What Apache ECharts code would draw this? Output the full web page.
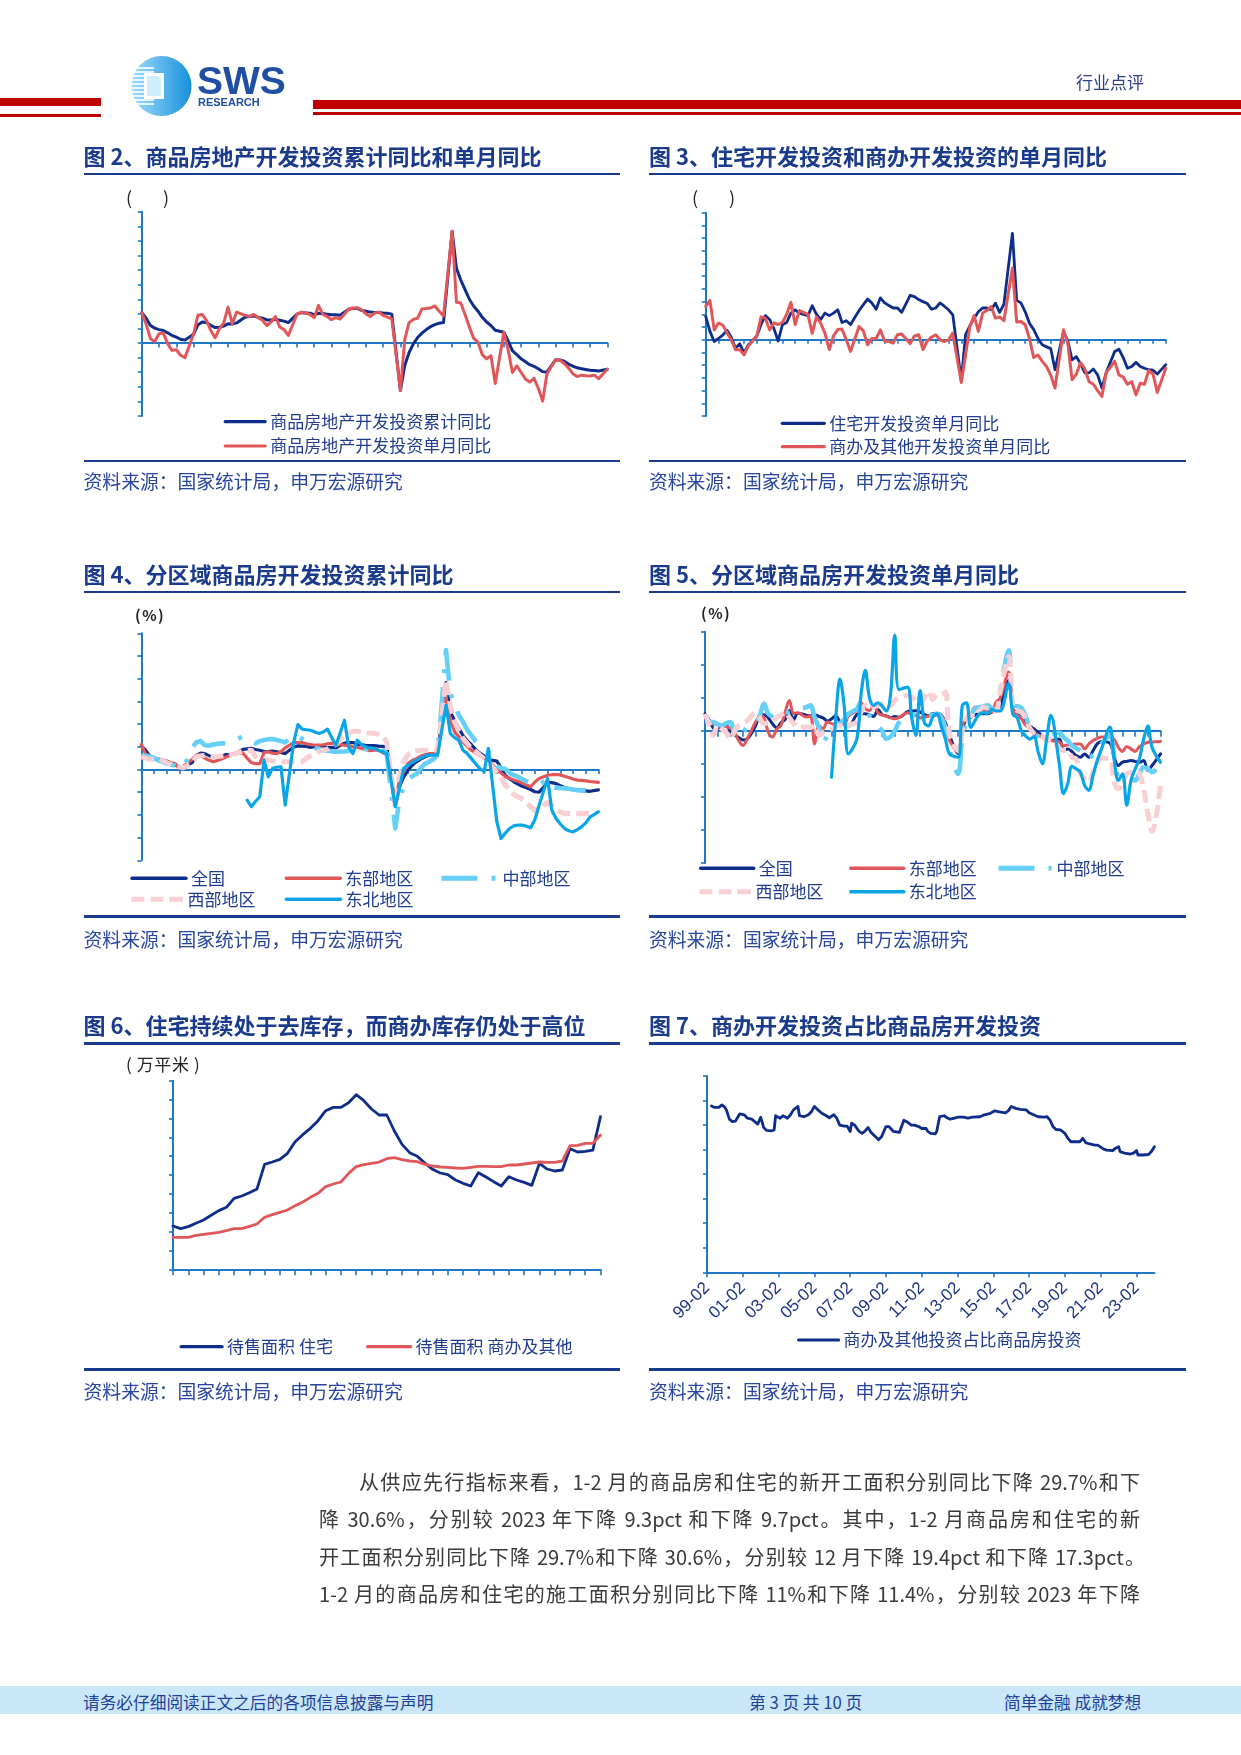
<!DOCTYPE html>
<html><head><meta charset="utf-8">
<script src="https://cdn.jsdelivr.net/npm/echarts@6/dist/echarts.min.js"></script>
<style>
body{margin:0;background:#fff;}
#page{position:relative;width:1241px;height:1755px;overflow:hidden;font-family:"Noto Sans CJK SC","Noto Sans",sans-serif;background:#fff;}
#chart{position:absolute;left:0;top:0;width:1241px;height:1755px;z-index:1;}
.t{position:absolute;white-space:nowrap;z-index:2;}
.ttl{font-size:22px;line-height:22px;font-weight:bold;color:#1a3a8c;}
.src{font-size:18.8px;line-height:19px;color:#2846a0;}
.rule{position:absolute;background:#1a3a8c;z-index:2;}
.para{position:absolute;z-index:2;font-size:20px;line-height:20px;color:#3a3a3a;text-align:justify;text-align-last:justify;white-space:nowrap;}
.unit{font-size:18px;line-height:18px;color:#222;}
</style></head>
<body><div id="page">
<div id="chart"></div>

<!-- header -->
<div style="position:absolute;left:0;top:98px;width:101px;height:8px;background:#c00000"></div>
<div style="position:absolute;left:0;top:114px;width:101px;height:3px;background:#c00000"></div>
<div style="position:absolute;left:313px;top:100px;width:928px;height:9px;background:#c00000"></div>
<div style="position:absolute;left:313px;top:112px;width:928px;height:3px;background:#c00000"></div>
<svg style="position:absolute;left:128px;top:54px;z-index:2" width="165" height="66">
 <defs><linearGradient id="lg1" x1="0" y1="0" x2="1" y2="0"><stop offset="0" stop-color="#9fdcf9"/><stop offset="1" stop-color="#1890dc"/></linearGradient></defs>
 <circle cx="33.5" cy="32" r="30" fill="url(#lg1)"/>
 <g stroke="#ffffff" stroke-width="1.6">
  <line x1="2" y1="14" x2="26" y2="14"/><line x1="2" y1="18" x2="26" y2="18"/><line x1="2" y1="22" x2="26" y2="22"/>
  <line x1="2" y1="26" x2="26" y2="26"/><line x1="2" y1="30" x2="26" y2="30"/><line x1="2" y1="34" x2="26" y2="34"/>
  <line x1="2" y1="38" x2="26" y2="38"/><line x1="2" y1="42" x2="26" y2="42"/><line x1="2" y1="46" x2="26" y2="46"/>
  <line x1="2" y1="50" x2="26" y2="50"/>
 </g>
 <rect x="16" y="19" width="20" height="26" fill="#ffffff"/>
 <rect x="19" y="22" width="14" height="20" fill="#cfeefd"/>
 <text x="69" y="40" font-family="Liberation Sans" font-weight="bold" font-size="39" fill="#1f4fa3">SWS</text>
 <text x="70" y="52" font-family="Liberation Sans" font-weight="bold" font-size="11" fill="#1f4fa3">RESEARCH</text>
</svg>
<div class="t" style="left:1076px;top:73px;font-size:17px;line-height:17px;color:#2a3f8c;">行业点评</div>

<!-- titles -->
<div class="t ttl" style="left:83.6px;top:144px;">图 2、商品房地产开发投资累计同比和单月同比</div>
<div class="t ttl" style="left:649px;top:144px;">图 3、住宅开发投资和商办开发投资的单月同比</div>
<div class="rule" style="left:83.6px;top:173.3px;width:536.4px;height:2px"></div>
<div class="rule" style="left:649px;top:173.3px;width:536.6px;height:2px"></div>
<div class="t unit" style="left:126px;top:188px;">(</div>
<div class="t unit" style="left:163px;top:188px;">)</div>
<div class="t unit" style="left:692px;top:188px;">(</div>
<div class="t unit" style="left:729px;top:188px;">)</div>
<div class="rule" style="left:83.6px;top:459.7px;width:536.4px;height:2px"></div>
<div class="rule" style="left:649px;top:459.7px;width:536.6px;height:2px"></div>
<div class="t src" style="left:83.6px;top:470.5px;">资料来源：国家统计局，申万宏源研究</div>
<div class="t src" style="left:649px;top:470.5px;">资料来源：国家统计局，申万宏源研究</div>

<div class="t ttl" style="left:83.6px;top:562px;">图 4、分区域商品房开发投资累计同比</div>
<div class="t ttl" style="left:649px;top:562px;">图 5、分区域商品房开发投资单月同比</div>
<div class="rule" style="left:83.6px;top:590.7px;width:536.4px;height:2px"></div>
<div class="rule" style="left:649px;top:590.7px;width:536.6px;height:2px"></div>
<div class="t" style="left:135px;top:607px;font-size:15px;line-height:16px;font-weight:bold;color:#222;letter-spacing:1.5px;">(%)</div>
<div class="t" style="left:701px;top:605px;font-size:15px;line-height:16px;font-weight:bold;color:#222;letter-spacing:1.5px;">(%)</div>
<div class="rule" style="left:83.6px;top:915.2px;width:536.4px;height:3px"></div>
<div class="rule" style="left:649px;top:915.2px;width:536.6px;height:3px"></div>
<div class="t src" style="left:83.6px;top:929px;">资料来源：国家统计局，申万宏源研究</div>
<div class="t src" style="left:649px;top:929px;">资料来源：国家统计局，申万宏源研究</div>

<div class="t ttl" style="left:83.6px;top:1013px;">图 6、住宅持续处于去库存，而商办库存仍处于高位</div>
<div class="t ttl" style="left:649px;top:1013px;">图 7、商办开发投资占比商品房开发投资</div>
<div class="rule" style="left:83.6px;top:1042px;width:536.4px;height:2.5px"></div>
<div class="rule" style="left:649px;top:1042px;width:536.6px;height:2.5px"></div>
<div class="t" style="left:126px;top:1054.5px;font-size:17px;line-height:17px;color:#222;letter-spacing:0.6px;">( 万平米 )</div>
<div class="rule" style="left:83.6px;top:1367.5px;width:536.4px;height:3px"></div>
<div class="rule" style="left:649px;top:1367.5px;width:536.6px;height:3px"></div>
<div class="t src" style="left:83.6px;top:1380.5px;">资料来源：国家统计局，申万宏源研究</div>
<div class="t src" style="left:649px;top:1380.5px;">资料来源：国家统计局，申万宏源研究</div>

<!-- paragraph -->
<div class="para" style="left:359px;top:1471.7px;width:781px;">从供应先行指标来看，1-2 月的商品房和住宅的新开工面积分别同比下降 29.7%和下</div>
<div class="para" style="left:319px;top:1509.3px;width:821px;">降 30.6%，分别较 2023 年下降 9.3pct 和下降 9.7pct。其中，1-2 月商品房和住宅的新</div>
<div class="para" style="left:319px;top:1546.7px;width:826px;">开工面积分别同比下降 29.7%和下降 30.6%，分别较 12 月下降 19.4pct 和下降 17.3pct。</div>
<div class="para" style="left:319px;top:1584px;width:821px;">1-2 月的商品房和住宅的施工面积分别同比下降 11%和下降 11.4%，分别较 2023 年下降</div>

<!-- footer -->
<div style="position:absolute;left:0;top:1686px;width:1241px;height:28px;background:#c9e7f9;z-index:1"></div>
<div class="t" style="left:83px;top:1693.5px;font-size:16.7px;line-height:17px;color:#1f3f9a;">请务必仔细阅读正文之后的各项信息披露与声明</div>
<div class="t" style="left:749px;top:1693.5px;font-size:16.7px;line-height:17px;color:#1f3f9a;">第 3 页 共 10 页</div>
<div class="t" style="left:1004px;top:1693.5px;font-size:16.7px;line-height:17px;color:#1f3f9a;">简单金融 成就梦想</div>
</div>

<script>
// ---------- categories ----------
function monthRange(y0, m0, y1, m1) {
  const out = []; let y = y0, m = m0;
  while (y < y1 || (y === y1 && m <= m1)) { out.push(y + '-' + String(m).padStart(2, '0')); m++; if (m > 12) { m = 1; y++; } }
  return out;
}
const months1524 = monthRange(2015, 2, 2024, 2);           // axis categories, charts 2-5
const dataMonths1524 = months1524.filter(s => !s.endsWith('-01')); // Jan-Feb reported together
const months1024 = monthRange(2010, 2, 2024, 2);           // chart 6
const months9924 = monthRange(1999, 2, 2024, 2);           // chart 7

// ---------- chart 2 ----------
const nationalCum = [
10.4, 8.5, 6.0, 5.1, 4.6, 4.3, 3.5, 2.6, 2.0, 1.3, 1.0,
3.0, 6.2, 7.2, 7.0, 6.1, 5.3, 5.4, 5.8, 6.6, 6.5, 6.9,
8.9, 9.1, 9.3, 8.8, 8.5, 7.9, 7.9, 8.1, 7.8, 7.5, 7.0,
9.9, 10.4, 10.3, 10.2, 9.7, 10.2, 10.1, 9.9, 9.7, 9.7, 9.5,
11.6, 11.8, 11.9, 11.2, 10.9, 10.6, 10.5, 10.5, 10.3, 10.2, 9.9,
-16.3, -7.7, -3.3, -0.3, 1.9, 3.4, 4.6, 5.6, 6.3, 6.8, 7.0,
38.3, 25.6, 21.6, 18.3, 15.0, 12.7, 10.9, 8.8, 7.2, 6.0, 4.4,
3.7, 0.7, -2.7, -4.0, -5.4, -6.4, -7.4, -8.0, -8.8, -9.8, -10.0,
-5.7, -5.8, -6.2, -7.2, -7.9, -8.5, -8.8, -9.1, -9.3, -9.4, -9.6,
-9.0];
const nationalMonthly = [
10.4, 6.5, 1.5, 0.5, 3.2, 3.4, -0.2, -2.5, -2.3, -4.2, -5.0,
3.0, 9.5, 9.8, 7.8, 4.3, 1.8, 4.9, 6.8, 12.3, 6.6, 10.6,
9.5, 9.1, 9.8, 8.7, 7.8, 6.0, 7.2, 9.1, 5.5, 4.6, 2.6,
9.9, 10.6, 10.3, 9.8, 8.7, 12.9, 9.8, 9.1, 8.0, 8.7, 8.2,
11.6, 12.0, 12.1, 11.4, 10.0, 9.1, 10.3, 10.6, 9.5, 8.9, 8.3,
-16.3, 1.2, 7.0, 8.1, 8.5, 11.7, 11.8, 12.0, 12.7, 10.9, 9.3,
38.3, 14.0, 13.7, 9.8, 5.5, 1.6, 0.3, -4.0, -5.4, -4.3, -13.9,
3.7, -2.4, -10.1, -7.8, -10.0, -12.3, -13.4, -12.1, -15.5, -19.9, -10.5,
-5.7, -5.9, -7.0, -8.5, -10.5, -11.5, -11.0, -11.2, -11.3, -11.0, -12.2,
-9.0];

// ---------- chart 3 ----------
const residentialMonthly = [
9.2, 3.3, -0.7, 0.5, 1.8, 3.7, 1.0, -3.3, -1.6, -5.2, -2.0,
1.5, 6.0, 9.5, 8.0, 4.5, -0.5, 5.9, 6.8, 10.5, 11.8, 10.5,
9.5, 13.4, 10.0, 8.0, 10.5, 9.5, 10.5, 11.8, 6.8, 7.5, 6.0,
11.5, 13.8, 16.0, 14.5, 12.0, 16.5, 14.5, 13.5, 12.5, 12.5, 10.8,
17.5, 17.0, 15.8, 15.0, 14.3, 12.0, 12.5, 14.5, 13.2, 11.8, 9.8,
-16.0, 2.0, 5.5, 8.5, 11.0, 12.5, 12.5, 11.8, 14.4, 10.8, 14.0,
41.9, 15.5, 14.5, 11.0, 6.5, 4.0, 0.5, -2.0, -2.8, -3.5, -11.8,
3.3, -0.5, -7.9, -6.6, -9.5, -13.0, -13.0, -11.5, -13.8, -19.0, -13.0,
-4.6, -3.7, -7.0, -11.2, -10.5, -8.9, -10.5, -11.2, -11.8, -12.0, -13.5,
-9.8];
const commercialMonthly = [
13.1, 15.5, 3.9, 6.6, 5.8, 2.8, 0.0, -3.9, -3.9, -5.9, -2.5,
1.5, 9.0, 8.5, 3.9, 6.6, 6.0, 6.8, 10.0, 14.7, 6.0, 11.5,
10.0, 2.5, 9.0, 6.5, 2.5, -3.9, 1.5, 4.0, 4.2, 0.0, -4.6,
5.2, 3.5, -2.0, 0.5, 0.5, 3.9, -0.5, -0.7, -1.3, 2.0, 2.3,
-1.5, 1.5, 2.0, -3.9, -0.5, 1.0, 2.0, 0.0, -0.7, 0.0, 2.6,
-16.8, -6.0, 5.0, 9.5, 3.3, 10.5, 11.5, 13.1, 8.5, 9.0, 7.5,
28.2, 7.0, 7.2, 5.9, 0.5, -7.0, -6.0, -8.5, -10.5, -14.0, -19.0,
3.9, -1.5, -15.7, -13.5, -9.0, -11.5, -16.5, -17.5, -20.0, -22.3, -13.0,
-8.5, -13.8, -14.7, -17.5, -16.5, -21.7, -17.1, -17.5, -12.0, -13.5, -20.7,
-11.2];

// ---------- chart 4 (cumulative, by region) ----------
const eastCum = [
11.0, 7.0, 5.5, 4.8, 4.5, 4.1, 3.8, 3.0, 2.6, 0.5, 1.5,
4.4, 6.3, 6.3, 5.0, 4.1, 3.4, 4.0, 4.6, 5.5, 6.3, 7.0,
7.3, 5.0, 3.0, 2.6, 2.6, 7.5, 7.8, 7.2, 7.0, 7.8, 9.5,
11.9, 11.9, 11.9, 11.3, 11.0, 10.7, 10.7, 10.9, 11.3, 11.5, 11.0,
10.7, 10.5, 10.0, 9.8, 9.3, 8.8, 8.3, 8.5, 8.5, 7.5, 6.5,
-14.5, -4.5, -1.0, 2.6, 4.0, 4.8, 5.8, 6.5, 7.0, 7.0, 7.5,
32.0, 22.0, 16.6, 14.5, 12.2, 10.2, 8.5, 7.3, 6.0, 5.0, 4.1,
0.0, -1.5, -3.2, -3.8, -4.6, -5.2, -6.0, -6.8, -7.6, -5.5, -4.0,
-2.5, -2.3, -2.2, -2.4, -3.0, -3.5, -4.2, -4.7, -4.8, -5.0, -5.3,
-5.7];
const centralCum = [
6.3, 6.0, 5.8, 5.0, 4.1, 3.5, 2.6, 2.2, 1.8, 1.2, 0.8,
9.5, 12.0, 12.5, 10.7, 10.5, 11.0, 11.3, 11.5, 11.5, 12.0, 12.9,
14.5, 14.0, 12.5, 11.5, 12.5, 13.0, 13.3, 13.4, 13.0, 12.5, 12.0,
15.0, 14.5, 13.5, 12.0, 10.5, 9.5, 9.0, 8.5, 8.3, 8.0, 7.8,
7.9, 8.2, 8.6, 9.0, 9.0, 9.0, 9.5, 9.5, 9.4, 8.5, 7.0,
-26.0, -13.0, -7.5, -4.5, -3.0, -2.0, 0.5, 2.5, 3.4, 4.5, 6.5,
52.6, 33.5, 29.0, 24.0, 21.0, 17.5, 15.0, 12.5, 11.0, 9.5, 8.0,
1.5, 0.5, 0.3, -1.5, -2.5, -3.2, -4.2, -5.2, -6.0, -6.8, -6.5,
-4.5, -7.5, -8.0, -8.2, -8.3, -8.5, -8.8, -9.1, -9.2, -9.2, null,
null];
const westCum = [
5.6, 5.0, 4.5, 4.6, 4.8, 4.0, 3.0, 2.2, 1.6, 1.2, 0.8,
3.0, 5.6, 6.0, 6.3, 6.0, 5.6, 5.7, 5.9, 6.2, 6.5, 7.0,
8.1, 8.4, 8.5, 5.6, 5.2, 4.8, 4.1, 3.8, 3.5, 3.4, 3.4,
3.4, 3.4, 3.4, 5.0, 6.0, 6.5, 8.0, 8.5, 9.0, 10.0, 11.0,
15.1, 16.0, 16.9, 16.9, 16.6, 16.3, 16.0, 16.0, 15.6, 15.0, 12.0,
-16.4, -3.0, 3.5, 6.5, 8.1, 8.3, 8.5, 8.5, 8.5, 8.5, 8.6,
39.4, 28.0, 21.0, 17.5, 13.7, 11.5, 9.3, 8.0, 6.3, 4.8, 3.4,
-1.5, -3.5, -6.9, -8.8, -11.0, -12.0, -13.0, -14.5, -16.5, -17.9, -17.0,
-14.5, -16.0, -17.9, -18.7, -19.4, -19.4, -19.4, -19.4, -19.4, -19.4, -19.4,
-19.2];
const northeastCum = [
null, null, null, null, null, null, null, null, null, null, null,
null, null, null, null, null, null, null, null, null, null, null,
null, -13.5, -16.4, -14.0, -12.0, 4.1, -3.2, 0.5, 1.0, 1.2, -15.7,
12.0, 19.8, 17.8, 17.5, 17.3, 16.5, 15.9, 16.5, 17.8, 14.0, 10.7,
21.7, 10.0, 7.0, 12.9, 11.0, 10.0, 9.5, 9.3, 8.5, 7.8, 7.0,
-16.4, -8.0, 0.5, 1.9, 3.0, 4.1, 5.0, 6.0, 6.3, 6.3, 6.3,
28.3, 15.9, 14.0, 12.9, 8.5, 7.0, 4.8, 2.5, 0.4, -1.0, 9.3,
-23.0, -30.4, -28.0, -26.0, -24.8, -24.5, -24.5, -25.0, -25.7, -22.0, -15.7,
-4.0, -18.0, -21.6, -24.0, -26.0, -27.0, -27.5, -26.5, -25.3, -23.5, -21.0,
-18.6];

// ---------- chart 5 (single month, by region) ----------
const nationalMonthlyR = [
10.4, 6.5, 1.5, 0.5, 3.2, 3.4, -0.2, -2.5, -4.0, -5.5, -5.0,
3.0, 9.5, 9.8, 7.8, 4.3, 1.8, 4.9, 6.8, 12.3, 6.6, 10.6,
9.5, 9.1, 9.8, 8.7, 7.8, 6.0, 7.2, 9.1, 5.5, 4.6, 2.6,
9.9, 10.6, 10.3, 9.8, 8.7, 12.9, 9.8, 9.1, 8.0, 8.7, 8.2,
11.6, 12.0, 12.1, 11.4, 10.0, 9.1, 10.3, 10.6, 9.5, 5.0, -2.8,
-13.9, 0.0, 7.5, 8.3, 9.5, 10.5, 10.3, 10.3, 11.3, 12.3, 15.0,
30.5, 13.0, 11.3, 9.5, 5.3, 3.0, 1.2, -1.0, -3.0, -5.9, -5.9,
-5.0, -11.9, -11.0, -12.5, -15.0, -16.0, -14.0, -16.0, -12.0, -7.9, -6.5,
-7.5, -16.0, -21.0, -19.0, -18.5, -18.0, -18.5, -19.0, -18.0, -24.0, -21.0,
-13.9];
const eastMonthly = [
9.3, 5.3, 4.3, 3.5, 3.2, 2.5, 1.5, -1.0, -6.0, -8.9, -4.8,
5.3, 9.3, 8.0, -0.8, -3.8, 1.0, 3.2, 11.3, 18.4, 10.5, 11.0,
8.3, 9.0, -7.9, 3.2, 1.2, 5.3, 4.5, 3.2, 5.0, 3.5, 9.0,
12.3, 17.0, 13.5, 12.3, 15.4, 11.0, 9.5, 8.9, 7.8, 7.3, 8.0,
10.9, 10.0, 9.3, 7.8, 8.3, 8.9, 9.5, 9.5, 9.3, 3.2, -5.9,
-13.0, 3.2, 7.5, 9.3, 14.3, 14.3, 12.8, 11.8, 11.3, 17.4, 20.0,
35.6, 13.3, 9.0, 7.3, 3.5, 1.5, -1.8, -2.5, -4.0, -4.8, -5.9,
-6.9, -8.9, -8.5, -8.3, -7.9, -7.9, -10.9, -8.0, -5.9, -4.5, -3.8,
-3.8, -5.0, -10.0, -12.5, -9.5, -10.9, -12.5, -9.5, -8.0, -6.9, -6.7,
-6.5];
const centralMonthly = [
5.3, 5.3, 5.3, 4.0, 3.2, 4.5, 5.3, -0.8, -2.8, -1.0, 2.2,
4.0, 9.3, 16.4, 10.3, 9.0, 10.3, 12.3, 11.5, 11.0, 12.5, 13.3,
14.3, 15.4, 8.0, 2.0, -6.9, -3.0, 1.2, 3.2, 4.5, 7.0, 10.3,
13.3, 17.4, 13.0, 9.3, 6.0, 3.2, 0.0, -4.8, -3.5, 0.0, 5.0,
9.5, 9.5, 9.5, 9.3, 10.0, 10.3, 9.5, 10.3, 8.0, 2.0, -12.0,
-26.0, -5.0, 5.0, 8.3, 13.3, 14.3, 14.8, 15.4, 13.5, 12.3, 25.0,
48.7, 15.4, 14.9, 14.0, 9.0, 2.0, -1.5, -3.5, -4.8, -4.0, -2.8,
-1.0, -3.8, -6.0, -8.9, -10.5, -11.9, -14.5, -17.0, -14.5, -12.9, -8.0,
-2.8, -15.0, -28.0, -28.5, -28.0, -29.0, -30.0, -26.0, -22.0, -23.0, -25.0,
-20.0];
const westMonthly = [
10.3, 4.0, -2.8, 3.2, 1.0, -1.0, -4.8, 0.0, 3.2, 4.5, 6.0,
10.9, 7.5, 4.3, 5.0, 6.0, 8.3, 9.5, 11.3, 8.0, 4.5, 2.2,
2.2, 2.2, 3.2, -2.8, -1.0, 0.2, 1.2, 2.5, 3.2, 1.2, 3.2,
5.3, 11.3, 15.4, 13.5, 14.5, 15.4, 16.5, 17.4, 15.4, 18.4, 20.0,
21.4, 20.5, 18.0, 16.0, 20.0, 24.0, 19.0, 22.0, 22.0, 23.4, -2.0,
-11.9, 0.0, 8.0, 9.5, 8.3, 12.0, 14.3, 13.5, 12.3, 12.0, 24.0,
45.0, 15.0, 12.3, 11.3, 7.5, 1.5, -1.5, -2.8, -3.5, -5.9, -5.0,
-10.5, -11.9, -12.0, -16.0, -17.0, -26.0, -29.0, -31.0, -25.0, -20.0, -16.5,
-17.0, -31.0, -35.0, -32.0, -26.0, -25.0, -24.5, -26.0, -35.0, -50.0, -61.0,
-33.0];
const northeastMonthly = [
null, null, null, null, null, null, null, null, null, null, null,
null, null, null, null, null, null, null, null, null, null, null,
null, null, null, null, null, null, -28.0, 7.3, 31.5, 15.0, -13.9,
-5.0, 22.0, 36.6, 20.0, 15.4, 17.0, 15.0, 12.0, 22.0, 58.0, 25.0,
26.5, 8.0, -2.8, 24.4, 5.0, 3.0, 8.3, 10.3, 3.0, -5.0, -14.0,
-16.0, 15.4, 17.0, 2.0, 6.0, 10.0, 11.0, 10.5, 13.0, 12.0, 12.0,
28.5, 10.0, 8.0, 0.0, -3.0, -5.0, -3.5, -12.9, -20.0, -5.0, 9.3,
-20.0, -38.0, -32.0, -21.5, -23.0, -25.0, -33.0, -36.0, -27.0, -18.0, -11.0,
2.2, -17.0, -30.0, -26.0, -45.0, -30.0, -23.0, -17.0, -5.0, 3.0, -10.0,
-19.0];

// ---------- chart 6 (readings every 3 months from 2010-02) ----------
const inventoryResidential = [
11484, 10777, 11308, 12191, 13074, 14311, 15548, 16431, 18816, 19435,
20318, 21290, 27827, 28445, 29152, 30742, 33834, 35689, 37368, 39400,
42050, 42933, 42933, 44170, 46290, 44700, 42491, 40901, 40901, 36661,
33128, 30919, 29947, 28180, 26502, 25530, 25088, 23675, 22791, 22085,
25619, 24470, 23233, 22085, 24559, 23675, 23057, 22262, 28092, 26590,
26060, 26325, 31979, 31096, 31272, 31626, 40460];
const inventoryCommercial = [
8481, 8481, 8481, 9011, 9276, 9541, 9806, 10247, 10777, 10777,
11396, 12014, 13781, 14488, 15106, 15725, 16873, 17845, 19081, 20142,
21908, 22615, 23145, 25442, 27209, 27739, 28092, 28445, 29329, 29594,
29064, 28711, 28534, 27827, 27385, 27120, 27032, 26855, 26767, 27032,
27297, 27297, 27209, 27209, 27650, 27650, 27915, 28180, 28445, 28357,
28357, 28711, 32775, 32862, 33392, 33392, 35600];

// ---------- chart 7 ----------
const shareMonths = ['1999-05','1999-07','1999-10','1999-12','2000-02','2000-03','2000-05','2000-07','2000-09','2000-10','2000-12','2001-03','2001-05','2001-08','2001-10','2001-12','2002-02','2002-03','2002-04','2002-06','2002-09','2002-11','2002-12','2003-03','2003-05','2003-08','2003-10','2003-12','2004-03','2004-04','2004-07','2004-10','2004-12','2005-02','2005-04','2005-07','2005-10','2005-12','2006-03','2006-05','2006-07','2006-10','2006-12','2007-02','2007-03','2007-05','2007-08','2007-10','2007-12','2008-02','2008-04','2008-07','2008-09','2008-11','2009-02','2009-04','2009-07','2009-08','2009-11','2009-12','2010-02','2010-04','2010-07','2010-09','2010-12','2011-02','2011-05','2011-06','2011-08','2011-11','2011-12','2012-02','2012-05','2012-07','2012-09','2012-12','2013-02','2013-06','2013-09','2013-12','2014-05','2014-08','2014-12','2015-03','2015-06','2015-10','2015-12','2016-02','2016-05','2016-08','2016-12','2017-02','2017-05','2017-08','2017-12','2018-02','2018-04','2018-06','2018-08','2018-11','2019-02','2019-04','2019-06','2019-09','2019-12','2020-02','2020-04','2020-06','2020-10','2020-12','2021-04','2021-06','2021-10','2021-12','2022-02','2022-03','2022-06','2022-10','2022-12','2023-02','2023-03','2023-06','2023-10','2023-12','2024-02'];
const shareValues = [33.9,33.6,33.6,34.1,33.6,33.1,31.2,30.7,30.8,30.5,32.3,32.1,31.4,31.2,30.7,30.2,31.6,31.6,29.5,28.9,28.8,29.0,31.9,31.4,31.9,31.4,32.1,33.1,33.8,31.9,31.7,32.1,32.7,33.8,33.2,32.4,31.9,31.5,32.1,31.4,30.0,29.8,29.8,28.7,30.4,30.0,28.7,28.3,28.8,29.5,28.5,27.6,27.0,27.6,29.7,29.7,28.7,28.5,28.5,28.8,31.0,30.7,30.0,30.0,29.7,29.3,29.3,28.7,28.3,28.2,28.7,31.7,31.9,31.5,31.2,31.4,31.6,31.6,31.4,31.6,31.7,32.1,32.4,32.9,32.7,32.5,32.9,33.8,33.4,33.2,33.1,32.5,32.1,31.7,31.6,31.7,31.0,29.7,29.1,29.0,28.3,27.3,26.6,26.6,26.6,27.3,26.4,26.2,25.9,25.9,25.1,24.9,24.8,25.3,25.6,24.6,24.3,24.1,24.3,24.8,23.9,23.9,24.0,24.6,25.6];

// ---------- build ----------
function pairs1524(values) {
  const out = [];
  values.forEach((v, i) => { if (v !== null) out.push([months1524.indexOf(dataMonths1524[i]), v]); });
  return out;
}
function pairsStep(values, step) { return values.map((v, i) => [i * step, v]); }
function pairsNamed(names, values, cats) { return names.map((n, i) => [cats.indexOf(n), values[i]]); }

const NAVY = '#0e2d8a', RED = '#e15759', CYAN = '#66cff7', PINK = '#f8cfd2', BLUE = '#0aa5e6', AX = '#1f77c8';
const FONT = 'Noto Sans CJK SC';

function line(name, gi, data, color, width, extra) {
  return Object.assign({
    type: 'line', name, xAxisIndex: gi, yAxisIndex: gi, data, symbol: 'none', showSymbol: false,
    connectNulls: true, animation: false, silent: true, emphasis: { disabled: true },
    lineStyle: { color, width, cap: 'round', join: 'round' }, itemStyle: { color }
  }, extra || {});
}
function dashed(name, gi, data, color, width, dash, extra) {
  const s = line(name, gi, data, color, width, extra);
  s.lineStyle.type = dash; s.lineStyle.cap = 'butt';
  return s;
}
function xCat(gi, cats, tickInt, tickLen, labelOpt) {
  return {
    type: 'category', gridIndex: gi, data: cats, boundaryGap: false,
    axisLine: { show: true, onZero: true, lineStyle: { color: AX, width: 2 } },
    axisTick: { show: true, interval: tickInt, length: tickLen, lineStyle: { color: AX, width: 1.6 } },
    axisLabel: labelOpt || { show: false }, splitLine: { show: false }
  };
}
function yVal(gi, min, max, interval) {
  return {
    type: 'value', gridIndex: gi, min, max, interval,
    axisLine: { show: true, lineStyle: { color: AX, width: 2 } },
    axisTick: { show: true, length: 4, lineStyle: { color: AX, width: 1.6 } },
    axisLabel: { show: false }, splitLine: { show: false }
  };
}
function lg(name, left, cy, w, lw) {
  return {
    left, top: cy - 10, data: [name], itemWidth: w, itemHeight: 14, padding: 0, selectedMode: false,
    itemStyle: { opacity: 0, borderWidth: 0 },
    lineStyle: { width: lw },
    textStyle: { fontSize: 17, lineHeight: 20, color: '#1f3c90', fontFamily: FONT }
  };
}

const option = {
  animation: false,
  textStyle: { fontFamily: FONT },
  grid: [
    { left: 141.8, top: 211.7, width: 465.5, height: 204.3 },
    { left: 705.7, top: 212.7, width: 460.1, height: 203.3 },
    { left: 141.3, top: 633.3, width: 457.1, height: 227 },
    { left: 705, top: 631.7, width: 455.5, height: 231.3 },
    { left: 173, top: 1080.7, width: 427.5, height: 188.6 },
    { left: 707, top: 1076, width: 447.4, height: 196.3 }
  ],
  xAxis: [
    xCat(0, months1524, 3, 4.5),
    xCat(1, months1524, 2, 4),
    xCat(2, months1524, 2, 4.5),
    xCat(3, months1524, 2, 6),
    xCat(4, months1024, 5, 6),
    xCat(5, months9924, 23, 5, { show: true, interval: 23, rotate: 45, fontSize: 17, color: '#1a3585', margin: 13, fontFamily: 'Liberation Sans', formatter: v => v.slice(2) })
  ],
  yAxis: [
    yVal(0, -25, 45, 5),
    yVal(1, -30, 50, 5),
    yVal(2, -40, 60, 10),
    yVal(3, -80, 60, 20),
    yVal(4, 0, 50000, 5000),
    yVal(5, 0, 40, 5)
  ],
  legend: [
    lg('商品房地产开发投资累计同比', 223.6, 421.7, 40, 3.2),
    lg('商品房地产开发投资单月同比', 223.6, 446, 40, 3.2),
    lg('住宅开发投资单月同比', 780.7, 423.3, 42, 3.2),
    lg('商办及其他开发投资单月同比', 780.7, 446.7, 42, 3.2),
    lg('全国', 130.3, 878.3, 54, 3.4),
    lg('东部地区', 284.6, 878.3, 54, 3.4),
    lg('中部地区', 439, 878.3, 56, 5),
    lg('西部地区', 129, 899.3, 51, 5),
    lg('东北地区', 284.6, 899.3, 54, 3.6),
    lg('全国 ', 699, 868.3, 53, 3.4),
    lg('东部地区 ', 849, 868.3, 53, 3.4),
    lg('中部地区 ', 996, 868.3, 53, 5),
    lg('西部地区 ', 697, 891.7, 51, 5),
    lg('东北地区 ', 849, 891.7, 53, 3.6),
    lg('待售面积 住宅', 179.5, 1346.7, 41, 3.2),
    lg('待售面积 商办及其他', 366, 1346.7, 43, 3.2),
    lg('商办及其他投资占比商品房投资', 797, 1340, 40, 3.2)
  ],
  series: [
    line('商品房地产开发投资累计同比', 0, pairs1524(nationalCum), NAVY, 3),
    line('商品房地产开发投资单月同比', 0, pairs1524(nationalMonthly), RED, 3),

    line('住宅开发投资单月同比', 1, pairs1524(residentialMonthly), NAVY, 2.8),
    line('商办及其他开发投资单月同比', 1, pairs1524(commercialMonthly), RED, 3),

    line('全国', 2, pairs1524(nationalCum), NAVY, 3.2),
    line('东部地区', 2, pairs1524(eastCum), RED, 3.2),
    dashed('中部地区', 2, pairs1524(centralCum), CYAN, 4.6, [36, 14, 4, 14]),
    dashed('西部地区', 2, pairs1524(westCum), PINK, 5, [13, 6]),
    line('东北地区', 2, pairs1524(northeastCum), BLUE, 3.2),

    line('全国 ', 3, pairs1524(nationalMonthlyR), NAVY, 3, { smooth: 0.35 }),
    line('东部地区 ', 3, pairs1524(eastMonthly), RED, 3, { smooth: 0.35 }),
    dashed('中部地区 ', 3, pairs1524(centralMonthly), CYAN, 4.6, [36, 14, 4, 14], { smooth: 0.35 }),
    dashed('西部地区 ', 3, pairs1524(westMonthly), PINK, 5, [13, 6], { smooth: 0.35 }),
    line('东北地区 ', 3, pairs1524(northeastMonthly), BLUE, 3.2, { smooth: 0.35 }),

    line('待售面积 住宅', 4, pairsStep(inventoryResidential, 3), NAVY, 2.8),
    line('待售面积 商办及其他', 4, pairsStep(inventoryCommercial, 3), RED, 2.8),

    line('商办及其他投资占比商品房投资', 5, pairsNamed(shareMonths, shareValues, months9924), NAVY, 2.8)
  ]
};
const chart = echarts.init(document.getElementById('chart'), null, { renderer: 'canvas' });
chart.setOption(option);
</script>
</body></html>
